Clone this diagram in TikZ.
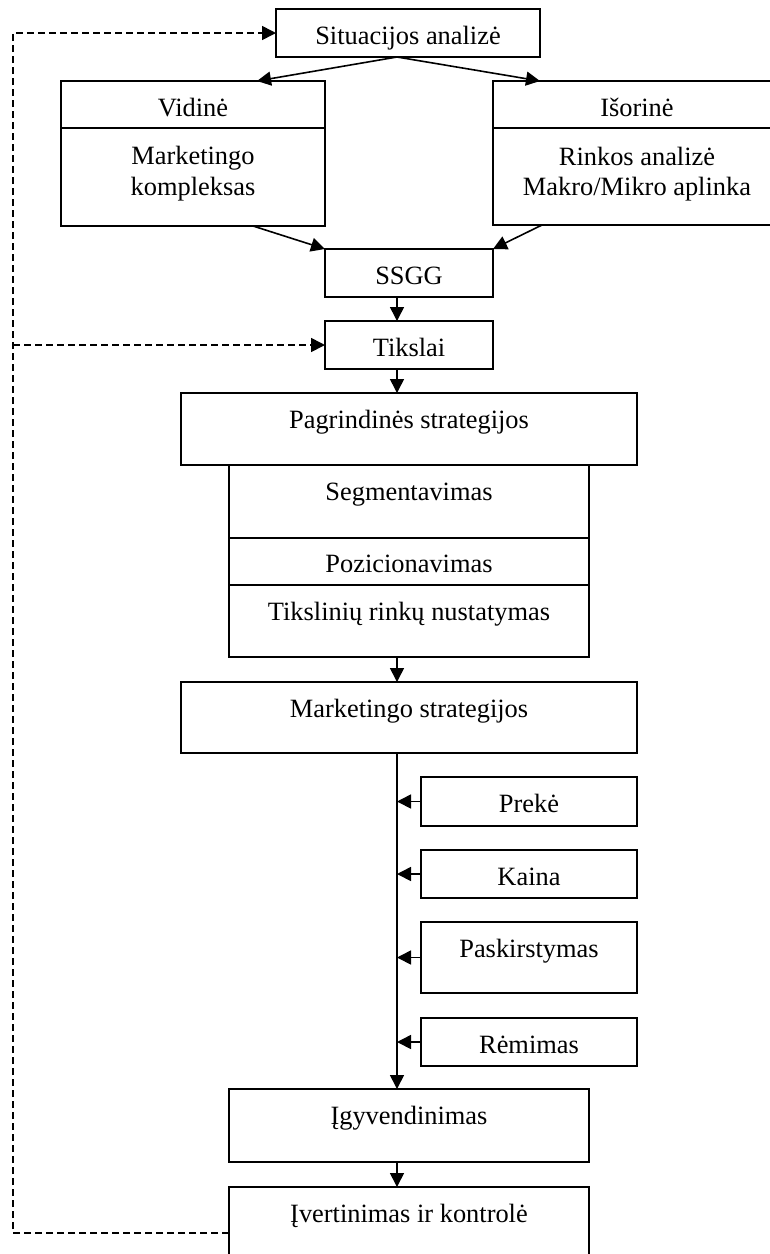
\documentclass[tikz,border=0pt]{standalone}
\usepackage{fontspec}
\setmainfont{Liberation Serif}
\usetikzlibrary{arrows.meta,calc}

\tikzset{
  box/.style={draw, line width=2pt, inner sep=0pt, outer sep=0pt,
              text height=35pt},
  lbl/.style={inner sep=0pt, anchor=base},
  tip/.style={-{Triangle[length=14pt,width=14pt]}},
  conn/.style={line width=1.6pt, tip},
  fback/.style={line width=1.6pt, dash pattern=on 7pt off 4pt},
}

\begin{document}
\begin{tikzpicture}[x=1pt, y=-1pt, font=\fontsize{26.4pt}{30.5pt}\selectfont]
\useasboundingbox (0,0) rectangle (770,1254);

% situation analysis
\node[box, minimum width=264pt, text depth=13pt] (sit) at (408,33) {Situacijos analizė};

% internal analysis
\node[box, minimum width=264pt, text depth=12pt] (vidh) at (193,104.5) {Vidinė};
\node[box, minimum width=264pt, minimum height=98pt, text height=0pt, text depth=0pt] (vidb) at (193,177) {};
\node[lbl] (vid1) at (193,164) {Marketingo};
\node[lbl] (vid2) at (193,195) {kompleksas};

% external analysis
\node[box, minimum width=288pt, text depth=12pt] (isoh) at (637,104.5) {Išorinė};
\node[box, minimum width=288pt, minimum height=97pt, text height=0pt, text depth=0pt] (isob) at (637,176.5) {};
\node[lbl] (iso1) at (637,165) {Rinkos analizė};
\node[lbl] (iso2) at (637,195) {Makro/Mikro aplinka};

% SWOT and goals
\node[box, minimum width=168pt, text depth=13pt] (ssgg) at (409,273) {SSGG};
\node[box, minimum width=168pt, text depth=13pt] (tiks) at (409,345) {Tikslai};

% core strategies
\node[box, minimum width=456pt, text depth=37pt] (pag) at (409,429) {Pagrindinės strategijos};
\node[box, minimum width=360pt, text depth=38pt] (seg) at (409,501.5) {Segmentavimas};
\node[box, minimum width=360pt, text height=34pt, text depth=13pt] (poz) at (409,561.5) {Pozicionavimas};
\node[box, minimum width=360pt, text depth=37pt] (tnr) at (409,621) {Tikslinių rinkų nustatymas};

% marketing strategies and the mix
\node[box, minimum width=456pt, text depth=36pt] (mstr) at (409,717.5) {Marketingo strategijos};
\node[box, minimum width=216pt, text depth=14pt] (prek) at (529,801.5) {Prekė};
\node[box, minimum width=216pt, text depth=13pt] (kain) at (529,874) {Kaina};
\node[box, minimum width=216pt, text depth=36pt] (pask) at (529,957.5) {Paskirstymas};
\node[box, minimum width=216pt, text depth=13pt] (rem) at (529,1042) {Rėmimas};

% implementation and control
\node[box, minimum width=360pt, text depth=38pt] (igy) at (409,1125.5) {Įgyvendinimas};
\node[box, minimum width=360pt, text depth=37pt] (ivert) at (409,1223) {Įvertinimas ir kontrolė};

% main flow
\draw[conn] ([xshift=-11pt]sit.south) -- ([xshift=-68pt]vidh.north east);
\draw[conn] ([xshift=-11pt]sit.south) -- ([xshift=47pt]isoh.north west);
\draw[conn] ([xshift=-72pt]vidb.south east) -- (ssgg.north west);
\draw[conn] ([xshift=49pt]isob.south west) -- (ssgg.north east);
\draw[conn] ([xshift=-12pt]ssgg.south) -- ([xshift=-12pt]tiks.north);
\draw[conn] ([xshift=-12pt]tiks.south) -- ([xshift=-12pt]pag.north);
\draw[conn] ([xshift=-12pt]tnr.south) -- ([xshift=-12pt]mstr.north);

% spine collecting the marketing mix
\coordinate (spine) at ([xshift=-12pt]mstr.south);
\draw[conn] (spine) -- ([xshift=-12pt]igy.north);
\draw[conn] (prek.west) -- (prek.west -| spine);
\draw[conn] (kain.west) -- (kain.west -| spine);
\draw[conn] (pask.west) -- (pask.west -| spine);
\draw[conn] (rem.west) -- (rem.west -| spine);
\draw[conn] ([xshift=-12pt]igy.south) -- ([xshift=-12pt]ivert.north);

% feedback loop
\coordinate (rail) at (13,0);
\coordinate (fb) at ([yshift=-46pt]ivert.north west);
\draw[fback, tip] (fb) -- (fb -| rail) |- (sit.west);
\draw[fback, tip] (tiks.west -| rail) -- (tiks.west);
\end{tikzpicture}
\end{document}
